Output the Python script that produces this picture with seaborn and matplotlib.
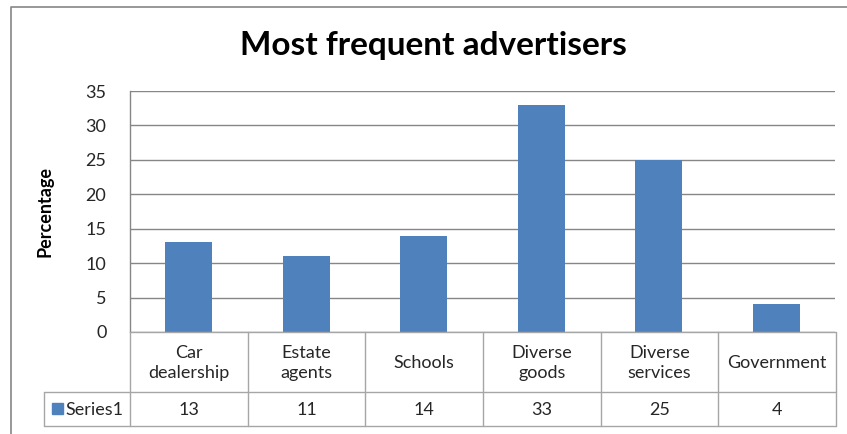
import matplotlib
matplotlib.use("Agg")
import matplotlib.pyplot as plt
import seaborn as sns
import pandas as pd

categories = ["Car\ndealership", "Estate\nagents", "Schools", "Diverse\ngoods", "Diverse\nservices", "Government"]
values = [13, 11, 14, 33, 25, 4]
series_name = "Series1"
y_ticks = [0, 5, 10, 15, 20, 25, 30, 35]

sns.set_theme(style="white")
plt.rcParams["font.family"] = ["Lato", "DejaVu Sans"]

W, H = 847, 434
fig = plt.figure(figsize=(W / 100, H / 100), dpi=100)
fig.patch.set_facecolor("white")

def px_rect(x0, y0, x1, y1):
    return [x0 / W, 1 - y1 / H, (x1 - x0) / W, (y1 - y0) / H]

BAR = "#4F81BD"
GRID = "#868686"
TBL = "#A6A6A6"
TXT = "#262626"
FS = 13

# chart area frame
frame = fig.add_axes([0, 0, 1, 1], zorder=-5)
frame.set_xlim(0, W); frame.set_ylim(H, 0); frame.axis("off")
frame.plot([11, 11, W + 5], [H + 5, 7, 7], color=GRID, lw=1.2)

# main plot
ax = fig.add_axes(px_rect(130, 91, 835, 332))
df = pd.DataFrame({"category": categories, "value": values})
sns.barplot(data=df, x="category", y="value", color=BAR, width=0.4,
            saturation=1, ax=ax, zorder=3, edgecolor="none")
ax.set_xlim(-0.5, len(categories) - 0.5)
ax.set_ylim(0, 35)
ax.set_yticks(y_ticks)
ax.set_yticklabels([str(t) for t in y_ticks], fontsize=FS, color=TXT)
ax.tick_params(axis="y", length=0, pad=17)
ax.set_xticks([])
ax.set_xlabel("")
ax.set_ylabel("Percentage", fontsize=13, fontweight="bold", color="black", labelpad=23)
ax.yaxis.grid(True, color=GRID, lw=1)
for s in ["top", "right", "bottom"]:
    ax.spines[s].set_visible(False)
ax.spines["left"].set_color(GRID)
ax.spines["left"].set_linewidth(1)

fig.text(433 / W, 1 - 46 / H, "Most frequent advertisers", ha="center", va="center",
         fontsize=24, fontweight="bold", color="black")

# data table beneath the plot
n = len(categories)
key_w = 86 / 117.5
tab = fig.add_axes(px_rect(44, 332, 836, 426))
tab.set_xlim(-0.5 - key_w, n - 0.5)
tab.set_ylim(94, 0)
tab.axis("off")
row1 = 60
for i in range(n + 1):
    x = i - 0.5
    tab.plot([x, x], [0, 94], color=TBL, lw=1, clip_on=False)
tab.plot([-0.5 - key_w, -0.5 - key_w], [row1, 94], color=TBL, lw=1, clip_on=False)
tab.plot([-0.5, n - 0.5], [0, 0], color=TBL, lw=1, clip_on=False)
tab.plot([-0.5 - key_w, n - 0.5], [row1, row1], color=TBL, lw=1, clip_on=False)
tab.plot([-0.5 - key_w, n - 0.5], [94, 94], color=TBL, lw=1, clip_on=False)
for i, (c, v) in enumerate(zip(categories, values)):
    tab.text(i, row1 / 2 + 1, c, ha="center", va="center", fontsize=FS,
             color=TXT, linespacing=1.3)
    tab.text(i, (row1 + 94) / 2 + 1, str(v), ha="center", va="center",
             fontsize=FS, color=TXT)
kx = -0.5 - key_w + 8 / 117.5
tab.add_patch(plt.Rectangle((kx, 71), 11 / 117.5, 11, color=BAR, clip_on=False))
tab.text(kx + 13 / 117.5, (row1 + 94) / 2 + 1, series_name, ha="left", va="center",
         fontsize=FS, color=TXT)

fig.savefig("out.png", dpi=100, facecolor="white")
